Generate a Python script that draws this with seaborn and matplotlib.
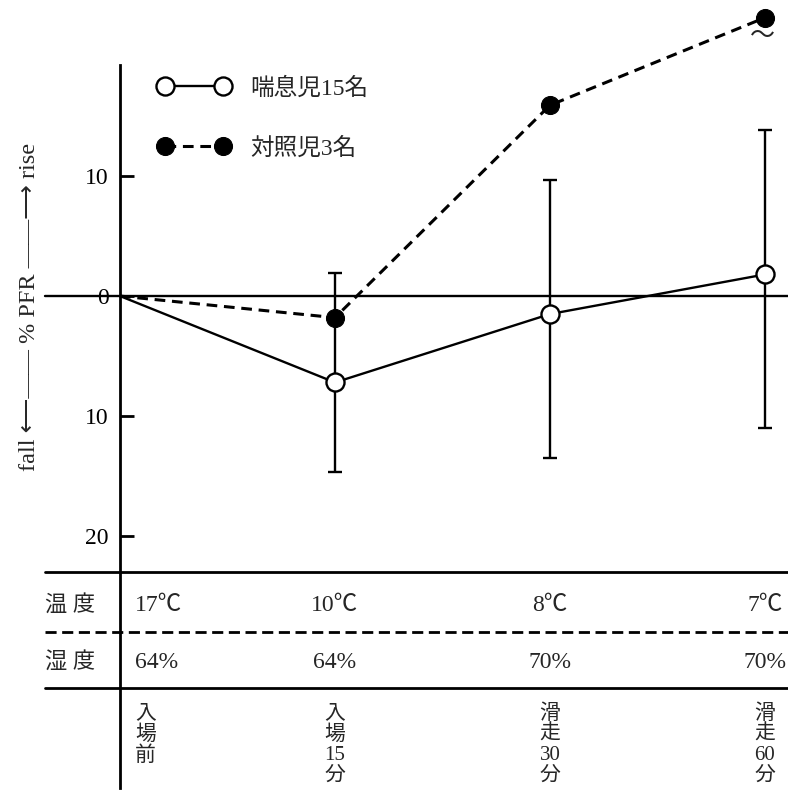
import matplotlib
matplotlib.use('Agg')
import matplotlib.pyplot as plt
import numpy as np
import pandas as pd
import seaborn as sns

# time points along the x axis (vertical stacked labels)
stages = ['入\n場\n前', '入\n場\n15\n分', '滑\n走\n30\n分', '滑\n走\n60\n分']
temps = ['17℃', '10℃', '8℃', '7℃']
humid = ['64%', '64%', '70%', '70%']
row_names = ['温 度', '湿 度']

# % PFR change (positive = rise, negative = fall)
asthma = [0.0, -7.2, -1.5, 1.8]
asthma_hi = [np.nan, 1.9, 9.7, 13.8]
asthma_lo = [np.nan, -14.7, -13.5, -11.0]
control = [0.0, -1.8, 15.9, 23.2]

yticks = [10, 0, -10, -20]
ytick_labels = ['10', '0', '10', '20']

sns.set_theme(style='white')
plt.rcParams['font.family'] = ['Liberation Serif', 'Noto Sans CJK JP', 'DejaVu Sans']

fig = plt.figure(figsize=(7.88, 8.01), dpi=100)
ax = fig.add_axes([0, 0, 1, 1])
ax.set_xlim(-0.558, 3.107)
ax.set_ylim(-42.08, 24.67)

x = np.arange(len(stages))
df = pd.DataFrame({'x': x, 'asthma': asthma, 'control': control,
                   'hi': asthma_hi, 'lo': asthma_lo})
eb = df.dropna()
ax.errorbar(eb['x'], eb['asthma'], yerr=[eb['asthma'] - eb['lo'], eb['hi'] - eb['asthma']],
            fmt='none', ecolor='black', elinewidth=1.7, capsize=5, capthick=1.7, zorder=2)

sns.lineplot(data=df, x='x', y='asthma', ax=ax, color='black', lw=1.7,
             marker='o', markersize=13, markerfacecolor='white', markevery=[1, 2, 3],
             markeredgecolor='black', markeredgewidth=1.7, label='喘息児15名', zorder=3)
sns.lineplot(data=df, x='x', y='control', ax=ax, color='black', lw=2.2,
             linestyle=(0, (3.5, 2.2)), marker='o', markersize=13, markevery=[1, 2, 3],
             markerfacecolor='black', markeredgecolor='black', label='対照児3名', zorder=4)

# break mark under the off-scale point
ax.annotate('〜', (x[-1], control[-1]), xytext=(-2, -14), textcoords='offset points',
            ha='center', va='center', fontsize=18)

leg = ax.legend(loc='upper left', bbox_to_anchor=(137 / 788, 1 - 56 / 801),
                bbox_transform=fig.transFigure, frameon=False, numpoints=2,
                handlelength=3.06, handletextpad=0.85, labelspacing=1.6, fontsize=17)
for h in leg.legend_handles:
    h.set_markevery(None)

for s in ['top', 'right', 'bottom']:
    ax.spines[s].set_visible(False)
ax.spines['left'].set_position(('data', 0))
ax.spines['left'].set_bounds(-41, 19.25)
ax.spines['left'].set_linewidth(2)
ax.spines['left'].set_color('black')
ax.set_yticks(yticks, ytick_labels)
ax.set_xticks([])
ax.tick_params(axis='y', direction='in', length=10, width=2, labelsize=17, pad=8,
               colors='black', left=True)
ax.set_xlabel('')
ax.set_ylabel('')

xmin = 45 / 788
ax.axhline(0, xmin=xmin, color='black', lw=1.7)
ax.axhline(-23, xmin=xmin, color='black', lw=2)
ax.axhline(-28, xmin=xmin, color='black', lw=2, linestyle=(0, (4, 2)))
ax.axhline(-32.67, xmin=xmin, color='black', lw=2)

ax.text(-0.42, -0.9, 'fall ⟵—— % PFR ——⟶ rise', rotation=90, ha='center', va='center',
        fontsize=17.5, family=['Liberation Serif', 'DejaVu Sans'])

ax.text(-0.35, -25.75, row_names[0], ha='left', va='center', fontsize=16)
ax.text(-0.35, -30.5, row_names[1], ha='left', va='center', fontsize=16)
for i in range(len(stages)):
    xp = 0.07 if i == 0 else x[i]
    ha = 'left' if i == 0 else 'center'
    ax.text(xp, -25.75, temps[i], ha=ha, va='center', fontsize=17)
    ax.text(xp, -30.5, humid[i], ha=ha, va='center', fontsize=17)
    ax.text(xp, -34.0, stages[i], ha=ha, va='top', fontsize=15, linespacing=1.12,
            multialignment='center')

fig.savefig('out.png', dpi=100)
